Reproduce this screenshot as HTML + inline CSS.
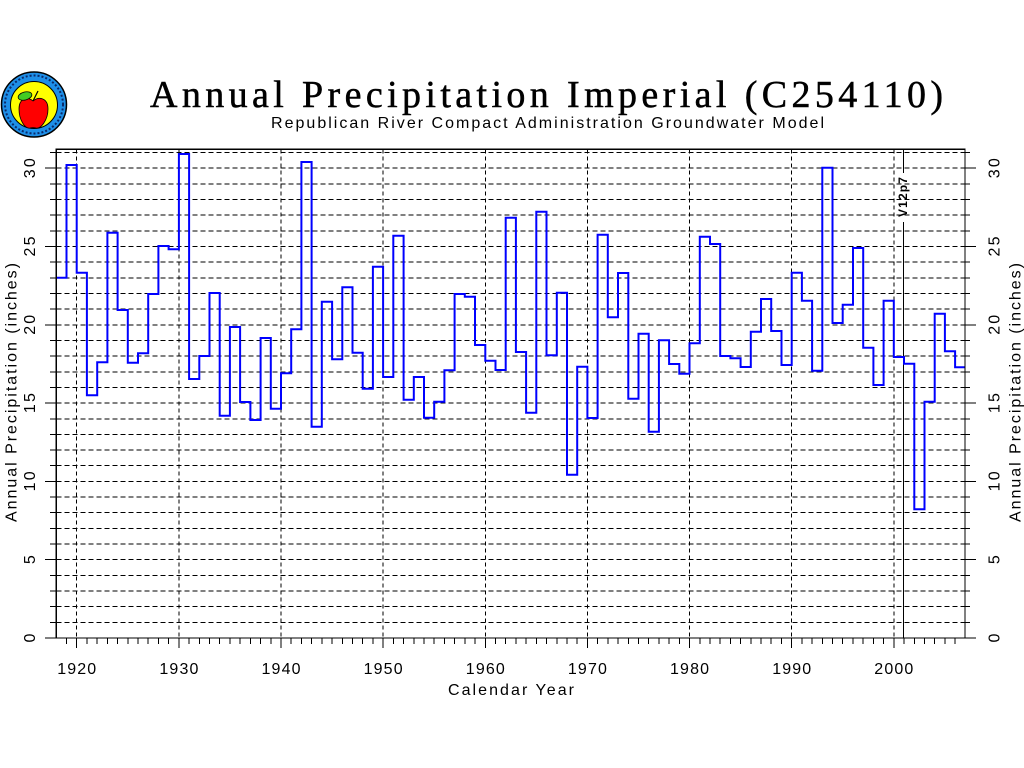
<!DOCTYPE html>
<html>
<head>
<meta charset="utf-8">
<style>
html,body{margin:0;padding:0;background:#fff;}
svg{display:block;}
</style>
</head>
<body>
<svg width="1024" height="768" viewBox="0 0 1024 768" xmlns="http://www.w3.org/2000/svg">
<rect x="0" y="0" width="1024" height="768" fill="#fff"/>

<!-- Logo -->
<g>
  <circle cx="34" cy="104.5" r="32.5" fill="#1e8fe8" stroke="#000" stroke-width="1.5"/>
  <circle cx="34" cy="104.5" r="29" fill="none" stroke="#0a2a6a" stroke-width="2" stroke-dasharray="2,2"/>
  <circle cx="34" cy="105" r="23.5" fill="#ffff00" stroke="#000" stroke-width="1"/>
  <path d="M33,101 C28,96 19,98 19,109 C19,120 25,129 30,128 C32,127.5 34,127.5 36,128 C41,129 48,120 48,109 C48,98 39,96 33,101 Z" fill="#ff0000" stroke="#000" stroke-width="0.8"/>
  <ellipse cx="25" cy="96" rx="7" ry="4" transform="rotate(-15 25 96)" fill="#44cc22" stroke="#000" stroke-width="0.8"/>
  <path d="M33,101 L38,91" stroke="#000" stroke-width="1.2" fill="none"/>
</g>

<!-- Title -->
<text x="150" y="107" font-family="'Liberation Serif', serif" font-size="38" textLength="793" lengthAdjust="spacing" fill="#000" stroke="#000" stroke-width="0.5">Annual Precipitation Imperial (C254110)</text>
<text x="271" y="128" font-family="'Liberation Sans', sans-serif" font-size="16" textLength="553" lengthAdjust="spacing" fill="#000">Republican River Compact Administration Groundwater Model</text>

<!-- Horizontal dashed grid -->
<path shape-rendering="crispEdges" stroke="#000" stroke-width="1" fill="none" stroke-dasharray="5,3"
d="M56.3,622.3H965 M56.3,606.7H965 M56.3,591H965 M56.3,575.4H965 M56.3,559.7H965 M56.3,544H965 M56.3,528.4H965 M56.3,512.7H965 M56.3,497H965 M56.3,481.4H965 M56.3,465.7H965 M56.3,450.1H965 M56.3,434.4H965 M56.3,418.8H965 M56.3,403.1H965 M56.3,387.4H965 M56.3,371.8H965 M56.3,356.1H965 M56.3,340.5H965 M56.3,324.8H965 M56.3,309.1H965 M56.3,293.5H965 M56.3,277.8H965 M56.3,262.2H965 M56.3,246.5H965 M56.3,230.8H965 M56.3,215.2H965 M56.3,199.5H965 M56.3,183.9H965 M56.3,168.2H965 M56.3,152.5H965"/>

<!-- Vertical dashed grid -->
<path shape-rendering="crispEdges" stroke="#000" stroke-width="1" fill="none" stroke-dasharray="4,3"
d="M76.7,149.3V638 M178.9,149.3V638 M281,149.3V638 M383.1,149.3V638 M485.3,149.3V638 M587.4,149.3V638 M689.5,149.3V638 M791.7,149.3V638 M893.8,149.3V638"/>

<!-- Left ticks -->
<path shape-rendering="crispEdges" stroke="#000" stroke-width="1" fill="none"
d="M45,638H56.3 M50,622.3H56.3 M50,606.7H56.3 M50,591H56.3 M50,575.4H56.3 M45,559.7H56.3 M50,544H56.3 M50,528.4H56.3 M50,512.7H56.3 M50,497H56.3 M45,481.4H56.3 M50,465.7H56.3 M50,450.1H56.3 M50,434.4H56.3 M50,418.8H56.3 M45,403.1H56.3 M50,387.4H56.3 M50,371.8H56.3 M50,356.1H56.3 M50,340.5H56.3 M45,324.8H56.3 M50,309.1H56.3 M50,293.5H56.3 M50,277.8H56.3 M50,262.2H56.3 M45,246.5H56.3 M50,230.8H56.3 M50,215.2H56.3 M50,199.5H56.3 M50,183.9H56.3 M45,168.2H56.3 M50,152.5H56.3"/>

<!-- Right ticks -->
<path shape-rendering="crispEdges" stroke="#000" stroke-width="1" fill="none"
d="M965,638H976 M965,622.3H970 M965,606.7H970 M965,591H970 M965,575.4H970 M965,559.7H976 M965,544H970 M965,528.4H970 M965,512.7H970 M965,497H970 M965,481.4H976 M965,465.7H970 M965,450.1H970 M965,434.4H970 M965,418.8H970 M965,403.1H976 M965,387.4H970 M965,371.8H970 M965,356.1H970 M965,340.5H970 M965,324.8H976 M965,309.1H970 M965,293.5H970 M965,277.8H970 M965,262.2H970 M965,246.5H976 M965,230.8H970 M965,215.2H970 M965,199.5H970 M965,183.9H970 M965,168.2H976 M965,152.5H970"/>

<!-- Bottom ticks -->
<path shape-rendering="crispEdges" stroke="#000" stroke-width="1" fill="none"
d="M76.7,638V648 M178.9,638V648 M281,638V648 M383.1,638V648 M485.3,638V648 M587.4,638V648 M689.5,638V648 M791.7,638V648 M893.8,638V648
M66.5,638V644 M86.9,638V644 M97.2,638V644 M107.4,638V644 M117.6,638V644 M127.8,638V644 M138,638V644 M148.2,638V644 M158.4,638V644 M168.6,638V644
M189.1,638V644 M199.3,638V644 M209.5,638V644 M219.7,638V644 M229.9,638V644 M240.1,638V644 M250.4,638V644 M260.6,638V644 M270.8,638V644
M291.2,638V644 M301.4,638V644 M311.6,638V644 M321.8,638V644 M332.1,638V644 M342.3,638V644 M352.5,638V644 M362.7,638V644 M372.9,638V644
M393.3,638V644 M403.6,638V644 M413.8,638V644 M424,638V644 M434.2,638V644 M444.4,638V644 M454.6,638V644 M464.8,638V644 M475,638V644
M495.5,638V644 M505.7,638V644 M515.9,638V644 M526.1,638V644 M536.3,638V644 M546.5,638V644 M556.8,638V644 M567,638V644 M577.2,638V644
M597.6,638V644 M607.8,638V644 M618,638V644 M628.3,638V644 M638.5,638V644 M648.7,638V644 M658.9,638V644 M669.1,638V644 M679.3,638V644
M699.8,638V644 M710,638V644 M720.2,638V644 M730.4,638V644 M740.6,638V644 M750.8,638V644 M761,638V644 M771.2,638V644 M781.5,638V644
M801.9,638V644 M812.1,638V644 M822.3,638V644 M832.5,638V644 M842.7,638V644 M853,638V644 M863.2,638V644 M873.4,638V644 M883.6,638V644
M904,638V644 M914.3,638V644 M924.5,638V644 M934.7,638V644 M944.9,638V644 M955.1,638V644"/>

<!-- V12p7 marker line -->
<path shape-rendering="crispEdges" stroke="#000" stroke-width="1" fill="none" d="M903.3,149.3V173 M903.3,222V638"/>
<text transform="translate(907,197) rotate(-90)" text-anchor="middle" font-family="'Liberation Sans', sans-serif" font-size="12" font-weight="bold" fill="#000" textLength="40" lengthAdjust="spacing">V12p7</text>

<!-- Data step line -->
<path fill="none" stroke="#0000ff" stroke-width="2" stroke-linejoin="miter"
d="M56.3,277.7 H66.5 V165 H76.7 V272.7 H86.9 V395.3 H97.2 V362.3 H107.4 V232.7 H117.6 V310 H127.8 V362.7 H138 V353.3 H148.2 V294 H158.4 V246 H168.6 V249.3 H178.9 V154 H189.1 V379 H199.3 V356 H209.5 V293 H219.7 V415.7 H229.9 V327 H240.1 V402 H250.4 V420 H260.6 V338 H270.8 V408.7 H281 V373.3 H291.2 V329.3 H301.4 V162 H311.6 V426.7 H321.8 V301.7 H332.1 V359.3 H342.3 V287.3 H352.5 V352.7 H362.7 V388.7 H372.9 V266.7 H383.1 V377 H393.3 V235.7 H403.6 V399.7 H413.8 V377 H424 V417.7 H434.2 V401.7 H444.4 V370.3 H454.6 V294 H464.8 V296.7 H475 V345 H485.3 V360.7 H495.5 V370 H505.7 V217.7 H515.9 V352 H526.1 V412.7 H536.3 V211.7 H546.5 V355.3 H556.8 V292.7 H567 V474.7 H577.2 V366.7 H587.4 V418 H597.6 V234.7 H607.8 V317.3 H618 V273 H628.3 V398.7 H638.5 V333.7 H648.7 V431.7 H658.9 V340.3 H669.1 V364 H679.3 V373.7 H689.5 V343.3 H699.8 V236.7 H710 V244 H720.2 V356 H730.4 V358.3 H740.6 V367 H750.8 V331.7 H761 V299 H771.2 V331 H781.5 V365 H791.7 V272.7 H801.9 V300.7 H812.1 V370.7 H822.3 V167.7 H832.5 V323 H842.7 V304.7 H853 V248 H863.2 V347.7 H873.4 V385 H883.6 V300.7 H893.8 V357 H904 V363.7 H914.3 V509.3 H924.5 V401.7 H934.7 V313.7 H944.9 V351.3 H955.1 V367.3 H965"/>

<!-- Frame -->
<rect shape-rendering="crispEdges" x="56.3" y="149.3" width="908.7" height="488.7" fill="none" stroke="#000" stroke-width="1.2"/>

<!-- Left tick labels -->
<g font-family="'Liberation Sans', sans-serif" font-size="16" fill="#000" text-anchor="middle">
  <text transform="translate(35,638) rotate(-90)">0</text>
  <text transform="translate(35,559.7) rotate(-90)">5</text>
  <text transform="translate(35,481.4) rotate(-90)" textLength="20" lengthAdjust="spacing">10</text>
  <text transform="translate(35,403.1) rotate(-90)" textLength="20" lengthAdjust="spacing">15</text>
  <text transform="translate(35,324.8) rotate(-90)" textLength="20" lengthAdjust="spacing">20</text>
  <text transform="translate(35,246.5) rotate(-90)" textLength="20" lengthAdjust="spacing">25</text>
  <text transform="translate(35,168.2) rotate(-90)" textLength="20" lengthAdjust="spacing">30</text>
</g>

<!-- Right tick labels -->
<g font-family="'Liberation Sans', sans-serif" font-size="16" fill="#000" text-anchor="middle">
  <text transform="translate(999.5,638) rotate(-90)">0</text>
  <text transform="translate(999.5,559.7) rotate(-90)">5</text>
  <text transform="translate(999.5,481.4) rotate(-90)" textLength="20" lengthAdjust="spacing">10</text>
  <text transform="translate(999.5,403.1) rotate(-90)" textLength="20" lengthAdjust="spacing">15</text>
  <text transform="translate(999.5,324.8) rotate(-90)" textLength="20" lengthAdjust="spacing">20</text>
  <text transform="translate(999.5,246.5) rotate(-90)" textLength="20" lengthAdjust="spacing">25</text>
  <text transform="translate(999.5,168.2) rotate(-90)" textLength="20" lengthAdjust="spacing">30</text>
</g>

<!-- Axis labels -->
<g font-family="'Liberation Sans', sans-serif" font-size="16" fill="#000" text-anchor="middle">
  <text transform="translate(16.5,392.5) rotate(-90)" textLength="259" lengthAdjust="spacing">Annual Precipitation (inches)</text>
  <text transform="translate(1020.5,392.5) rotate(-90)" textLength="259" lengthAdjust="spacing">Annual Precipitation (inches)</text>
</g>

<!-- X tick labels -->
<g font-family="'Liberation Sans', sans-serif" font-size="16" fill="#000" text-anchor="middle">
  <text x="76.7" y="674" textLength="39" lengthAdjust="spacing">1920</text>
  <text x="178.9" y="674" textLength="39" lengthAdjust="spacing">1930</text>
  <text x="281" y="674" textLength="39" lengthAdjust="spacing">1940</text>
  <text x="383.1" y="674" textLength="39" lengthAdjust="spacing">1950</text>
  <text x="485.3" y="674" textLength="39" lengthAdjust="spacing">1960</text>
  <text x="587.4" y="674" textLength="39" lengthAdjust="spacing">1970</text>
  <text x="689.5" y="674" textLength="39" lengthAdjust="spacing">1980</text>
  <text x="791.7" y="674" textLength="39" lengthAdjust="spacing">1990</text>
  <text x="893.8" y="674" textLength="39" lengthAdjust="spacing">2000</text>
  <text x="511" y="695" textLength="126" lengthAdjust="spacing">Calendar Year</text>
</g>
</svg>
</body>
</html>
